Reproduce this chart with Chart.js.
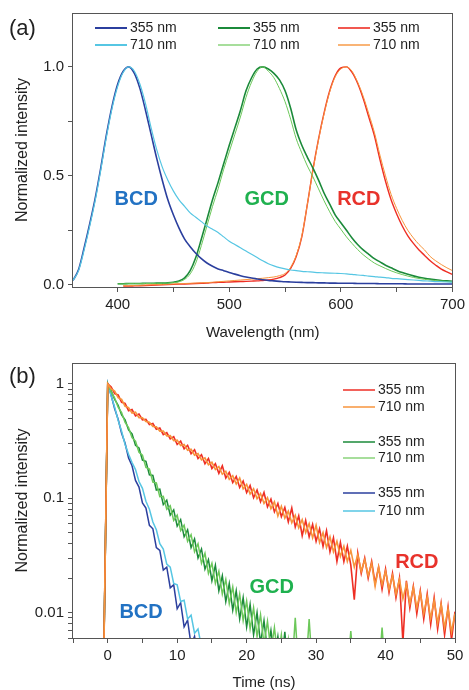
<!DOCTYPE html>
<html><head><meta charset="utf-8">
<script src="https://cdn.jsdelivr.net/npm/chart.js@4.4.1/dist/chart.umd.min.js"></script>
<style>
html,body{margin:0;padding:0;background:#fff;}
.wrap{position:relative;width:469px;height:345px;}
canvas{display:block;}
</style></head><body>
<div class="wrap"><canvas id="ca" width="469" height="345"></canvas></div>
<div class="wrap"><canvas id="cb" width="469" height="345"></canvas></div>
<script>
// ---------- DATA: panel (a) emission spectra ----------
const wavelengths = [
 360,365,370,375,380,385,390,395,400,405,
 410,415,420,425,430,435,440,445,450,455,
 460,465,470,475,480,485,490,495,500,505,
 510,515,520,525,530,535,540,545,550,555,
 560,565,570,575,580,585,590,595,600,605,
 610,615,620,625,630,635,640,645,650,655,
 660,665,670,675,680,685,690,695,700];
const bcd355 = [
 0.02,0.07,0.17,0.28,0.40,0.54,0.69,0.82,0.92,0.98,
 1.00,0.97,0.90,0.80,0.69,0.58,0.48,0.39,0.32,0.26,
 0.21,0.175,0.145,0.12,0.10,0.085,0.073,0.065,0.057,0.049,
 0.042,0.036,0.031,0.027,0.023,0.020,0.018,0.016,0.014,0.013,
 0.012,0.011,0.010,0.010,0.009,0.009,0.008,0.008,0.007,0.007,
 0.007,0.006,0.006,0.006,0.006,0.005,0.005,0.005,0.005,0.005,
 0.004,0.004,0.004,0.004,0.004,0.004,0.004,0.004,0.004];
const bcd710 = [
 0.02,0.065,0.16,0.27,0.39,0.53,0.68,0.81,0.91,0.975,
 1.00,0.98,0.92,0.83,0.72,0.62,0.54,0.48,0.43,0.39,
 0.36,0.33,0.31,0.29,0.27,0.255,0.24,0.22,0.20,0.185,
 0.17,0.155,0.14,0.125,0.11,0.097,0.087,0.079,0.073,0.068,
 0.065,0.062,0.060,0.058,0.056,0.055,0.054,0.053,0.052,0.050,
 0.048,0.045,0.043,0.040,0.038,0.035,0.033,0.030,0.028,0.026,
 0.024,0.022,0.020,0.018,0.017,0.015,0.014,0.013,0.012];
const gcd355 = [
 null,null,null,null,null,null,null,null,0.005,0.005,
 0.006,0.006,0.006,0.007,0.007,0.008,0.008,0.009,0.012,0.018,
 0.032,0.065,0.125,0.21,0.30,0.39,0.47,0.555,0.64,0.72,
 0.80,0.89,0.95,0.99,1.00,0.99,0.97,0.94,0.89,0.81,
 0.71,0.64,0.585,0.535,0.48,0.42,0.37,0.32,0.285,0.25,
 0.215,0.185,0.16,0.14,0.12,0.105,0.09,0.078,0.066,0.056,
 0.048,0.041,0.035,0.030,0.026,0.023,0.020,0.018,0.016];
const gcd710 = [
 null,null,null,null,null,null,null,null,0.004,0.004,
 0.005,0.005,0.005,0.006,0.006,0.007,0.007,0.008,0.010,0.014,
 0.025,0.05,0.10,0.18,0.27,0.36,0.44,0.53,0.61,0.69,
 0.77,0.86,0.93,0.98,1.00,0.98,0.95,0.90,0.84,0.76,
 0.67,0.605,0.545,0.495,0.44,0.385,0.335,0.29,0.255,0.22,
 0.19,0.162,0.138,0.118,0.10,0.087,0.075,0.064,0.055,0.047,
 0.04,0.034,0.029,0.025,0.022,0.019,0.017,0.015,0.013];
const rcd355 = [
 null,null,null,null,null,null,null,null,null,-0.006,
 -0.006,-0.005,-0.004,-0.003,-0.002,-0.001,0.0,0.001,0.002,0.003,
 0.004,0.005,0.006,0.007,0.008,0.010,0.011,0.012,0.013,0.014,
 0.015,0.016,0.017,0.018,0.020,0.022,0.026,0.033,0.045,0.075,
 0.13,0.22,0.37,0.53,0.67,0.79,0.89,0.96,0.995,1.00,
 0.975,0.925,0.855,0.77,0.685,0.575,0.475,0.39,0.325,0.27,
 0.225,0.19,0.16,0.135,0.11,0.09,0.072,0.059,0.048];
const rcd710 = [
 null,null,null,null,null,null,null,null,null,-0.004,
 -0.004,-0.003,-0.002,-0.001,0.0,0.001,0.002,0.003,0.004,0.005,
 0.006,0.007,0.008,0.009,0.010,0.012,0.014,0.016,0.018,0.020,
 0.022,0.024,0.026,0.028,0.030,0.033,0.036,0.042,0.052,0.080,
 0.135,0.225,0.37,0.525,0.665,0.785,0.885,0.955,0.99,1.00,
 0.98,0.93,0.865,0.785,0.70,0.595,0.50,0.415,0.35,0.295,
 0.25,0.215,0.185,0.16,0.13,0.11,0.093,0.078,0.065];

// ---------- DATA: panel (b) decay curves ----------
const timeNs = [
 -0.6,
 0,0.5,1,1.5,2,2.5,3,3.5,4,4.5,
 5,5.5,6,6.5,7,7.5,8,8.5,9,9.5,
 10,10.5,11,11.5,12,12.5,13,13.5,14,14.5,
 15,15.5,16,16.5,17,17.5,18,18.5,19,19.5,
 20,20.5,21,21.5,22,22.5,23,23.5,24,24.5,
 25,25.5,26,26.5,27,27.5,28,28.5,29,29.5,
 30,30.5,31,31.5,32,32.5,33,33.5,34,34.5,
 35,35.5,36,36.5,37,37.5,38,38.5,39,39.5,
 40,40.5,41,41.5,42,42.5,43,43.5,44,44.5,
 45,45.5,46,46.5,47,47.5,48,48.5,49,49.5,
 50];
const rcdDecay355 = [
 0.003,
 1.00,0.94,0.82,0.80,0.69,0.675,0.58,0.595,0.525,0.545,
 0.485,0.49,0.44,0.45,0.40,0.41,0.36,0.375,0.33,0.345,
 0.295,0.315,0.27,0.29,0.245,0.265,0.222,0.24,0.20,0.222,
 0.182,0.20,0.165,0.192,0.15,0.168,0.137,0.155,0.124,0.141,
 0.112,0.129,0.101,0.118,0.093,0.112,0.084,0.098,0.076,0.090,
 0.069,0.083,0.062,0.082,0.056,0.070,0.047,0.064,0.046,0.059,
 0.042,0.054,0.038,0.052,0.034,0.045,0.028,0.041,0.028,0.038,
 0.026,0.013,0.033,0.022,0.030,0.020,0.028,0.018,0.025,0.016,
 0.024,0.015,0.022,0.0135,0.020,0.0055,0.019,0.011,0.017,0.0098,
 0.0155,0.0088,0.0145,0.0079,0.0135,0.0072,0.0120,0.0064,0.0112,0.0058,
 0.0102];
const rcdDecay710 = [
 0.003,
 1.00,0.90,0.865,0.755,0.73,0.635,0.62,0.555,0.565,0.505,
 0.505,0.468,0.462,0.424,0.422,0.385,0.386,0.35,0.352,0.318,
 0.322,0.288,0.295,0.262,0.268,0.238,0.246,0.216,0.225,0.196,
 0.206,0.178,0.189,0.162,0.172,0.146,0.157,0.133,0.150,0.121,
 0.132,0.109,0.121,0.099,0.110,0.090,0.101,0.081,0.093,0.070,
 0.085,0.067,0.077,0.061,0.071,0.055,0.065,0.050,0.060,0.045,
 0.058,0.041,0.050,0.037,0.046,0.034,0.042,0.031,0.038,0.028,
 0.035,0.025,0.032,0.023,0.029,0.021,0.027,0.017,0.025,0.0175,
 0.023,0.016,0.021,0.0145,0.0195,0.0132,0.0178,0.012,0.0165,0.011,
 0.015,0.0098,0.0138,0.0089,0.0128,0.0081,0.0118,0.0074,0.0108,0.0068,
 0.0098];
const gcdDecay355 = [
 0.003,
 1.0,0.87,0.73,0.65,0.535,0.485,0.395,0.365,0.29,0.275,
 0.215,0.21,0.16,0.158,0.118,0.12,0.088,0.096,0.071,0.079,
 0.057,0.065,0.046,0.053,0.037,0.044,0.030,0.036,0.024,0.029,
 0.019,0.026,0.0155,0.021,0.0125,0.018,0.0105,0.0155,0.0088,0.0135,
 0.0075,0.0118,0.0064,0.0100,0.0054,0.0085,0.0046,0.0070,0.0040,0.0062,
 0.0035,0.0068,0.003,0.0045,0.003,0.003,0.003,0.003,0.003,0.003];
const gcdDecay710 = [
 0.003,
 1.0,0.85,0.75,0.625,0.56,0.46,0.415,0.338,0.315,0.252,
 0.238,0.186,0.18,0.138,0.136,0.103,0.104,0.080,0.086,0.064,
 0.071,0.052,0.058,0.042,0.048,0.034,0.040,0.027,0.033,0.022,
 0.027,0.018,0.023,0.0145,0.0195,0.012,0.0168,0.0100,0.0145,0.0085,
 0.0126,0.0072,0.0110,0.0062,0.0096,0.0053,0.0084,0.0046,0.0074,0.0040,
 0.0064,0.0035,0.0058,0.003,0.009,0.003,0.0045,0.003,0.0088,0.003,
 0.003,0.003,0.003,0.003,0.003,0.003,0.003,0.003,0.003,0.003,
 0.0069,0.003,0.003,0.003,0.003,0.003,0.003,0.003,0.003,0.0074,
 0.003];
const bcdDecay355 = [
 0.003,
 1.0,0.79,0.605,0.49,0.37,0.302,0.225,0.192,0.143,0.125,
 0.091,0.082,0.058,0.054,0.037,0.035,0.0235,0.025,0.0165,0.0175,
 0.0108,0.0122,0.0075,0.0086,0.0052,0.0062,0.0040,0.003];
const bcdDecay710 = [
 0.003,
 1.0,0.78,0.625,0.48,0.385,0.295,0.242,0.205,0.178,0.14,
 0.122,0.094,0.080,0.062,0.053,0.040,0.036,0.0265,0.025,0.018,
 0.0175,0.0125,0.0128,0.0088,0.0095,0.0066,0.0072,0.0050,0.0055,0.003];

// tick label sets
const specTickLabels = [0, 0.5, 1.0];
const specXLabels = [400, 500, 600, 700];
const decayYLabels = [1, 0.1, 0.01];
const decayXLabels = [0, 10, 20, 30, 40, 50];

// ---------- STYLE ----------
const FONT = "'Liberation Sans', Arial, Helvetica, sans-serif";
Chart.defaults.font.family = FONT;
Chart.defaults.color = '#222';
const C = {
  blue: '#2b3f9e', cyan: '#56c6e3',
  dgreen: '#1b8a3a', lgreen: '#6cc85a',
  red: '#ee2e24', orange: '#f7943c',
  tBlue: '#2272c3', tGreen: '#1fb14f', tRed: '#e8322b',
  axis: '#555', text: '#222'
};

function xy(xs, ys) { return ys.map((v, i) => ({x: xs[i], y: v})); }

function decor(opts) {
  return {
    id: 'decor',
    afterDatasetsDraw(chart) {
      const {ctx, chartArea: a} = chart;
      const sx = chart.scales.x, sy = chart.scales.y;
      ctx.save();
      ctx.strokeStyle = C.axis; ctx.lineWidth = 1;
      const l = Math.round(a.left) - 0.5, t = Math.round(a.top) + 0.5;
      const r = Math.round(a.right) + 0.5, b = Math.round(a.bottom) + 0.5;
      ctx.strokeRect(l, t, r - l, b - t);
      ctx.fillStyle = C.text; ctx.font = '22px ' + FONT;
      ctx.textAlign = 'left'; ctx.textBaseline = 'middle';
      ctx.fillText(opts.letter.text, opts.letter.x, opts.letter.y);
      ctx.font = '14px ' + FONT;
      opts.legend.forEach(e => {
        const ds = chart.data.datasets[e.ds];
        ctx.strokeStyle = ds.borderColor; ctx.lineWidth = e.w;
        ctx.beginPath(); ctx.moveTo(e.x1, e.y); ctx.lineTo(e.x2, e.y); ctx.stroke();
        ctx.fillStyle = C.text; ctx.textAlign = 'left';
        ctx.fillText(ds.label, e.x2 + 3, e.y + 0.5);
      });
      ctx.font = 'bold 20px ' + FONT; ctx.textAlign = 'center';
      opts.notes.forEach(n => {
        ctx.fillStyle = n.color;
        ctx.fillText(n.text, sx.getPixelForValue(n.x), sy.getPixelForValue(n.y));
      });
      ctx.restore();
    }
  };
}

function lineDs(label, data, color, width, order, smooth) {
  return {label, data, borderColor: color, backgroundColor: color, borderWidth: width,
    pointRadius: 0, fill: false, order, spanGaps: false,
    cubicInterpolationMode: smooth ? 'monotone' : 'default', tension: 0};
}

const gridCommon = {display: true, drawOnChartArea: false, drawTicks: true, tickLength: 5, tickColor: C.axis, tickWidth: 1};

// ---------- PANEL (a) ----------
new Chart(document.getElementById('ca'), {
  type: 'line',
  data: {datasets: [
    lineDs('355 nm', xy(wavelengths, bcd355), C.blue, 1.6, 2, true),
    lineDs('355 nm', xy(wavelengths, gcd355), C.dgreen, 1.6, 4, true),
    lineDs('355 nm', xy(wavelengths, rcd355), C.red, 1.4, 6, true),
    lineDs('710 nm', xy(wavelengths, bcd710), C.cyan, 1.2, 1, true),
    lineDs('710 nm', xy(wavelengths, gcd710), C.lgreen, 1.0, 3, true),
    lineDs('710 nm', xy(wavelengths, rcd710), C.orange, 1.0, 5, true)
  ]},
  options: {
    responsive: false, animation: false, events: [],
    layout: {padding: {top: 13, right: 14, left: 0, bottom: 0}},
    plugins: {legend: {display: false}, tooltip: {enabled: false}},
    scales: {
      x: {type: 'linear', min: 360, max: 700,
        afterFit: s => { s.height = 58; },
        border: {display: false}, grid: gridCommon,
        ticks: {stepSize: 50, includeBounds: false, autoSkip: false, maxRotation: 0, padding: 4,
          color: C.text, font: {size: 15},
          callback: v => specXLabels.includes(v) ? String(v) : ''},
        title: {display: true, text: 'Wavelength (nm)', color: C.text, font: {size: 15}, padding: {top: 0, bottom: 3}}
      },
      y: {type: 'linear', min: -0.01, max: 1.247,
        afterFit: s => { s.width = 73; },
        border: {display: false}, grid: gridCommon,
        ticks: {stepSize: 0.25, includeBounds: false, autoSkip: false, padding: 4,
          color: C.text, font: {size: 15},
          callback: v => specTickLabels.some(t => Math.abs(t - v) < 1e-9) ? v.toFixed(1) : ''},
        title: {display: true, text: 'Normalized intensity', color: C.text, font: {size: 16}, padding: {top: 13, bottom: 0}}
      }
    }
  },
  plugins: [decor({
    letter: {text: '(a)', x: 9, y: 29},
    legend: [
      {ds: 0, x1: 95, x2: 127, y: 28, w: 2},
      {ds: 3, x1: 95, x2: 127, y: 45, w: 2},
      {ds: 1, x1: 218, x2: 250, y: 28, w: 2},
      {ds: 4, x1: 218, x2: 250, y: 45, w: 1.2},
      {ds: 2, x1: 338, x2: 370, y: 28, w: 1.6},
      {ds: 5, x1: 338, x2: 370, y: 45, w: 1.4}
    ],
    notes: [
      {text: 'BCD', x: 416.6, y: 0.392, color: C.tBlue},
      {text: 'GCD', x: 533.6, y: 0.39, color: C.tGreen},
      {text: 'RCD', x: 616.1, y: 0.39, color: C.tRed}
    ]
  })]
});

// ---------- PANEL (b) ----------
function isDecadeMultiple(v) {
  const e = Math.floor(Math.log10(v) + 1e-9);
  const m = v / Math.pow(10, e);
  return Math.abs(m - Math.round(m)) < 1e-6 && Math.round(m) <= 9;
}
new Chart(document.getElementById('cb'), {
  type: 'line',
  data: {datasets: [
    lineDs('355 nm', xy(timeNs, rcdDecay355), C.red, 1.6, 2, false),
    lineDs('710 nm', xy(timeNs, rcdDecay710), C.orange, 1.6, 1, false),
    lineDs('355 nm', xy(timeNs, gcdDecay355), C.dgreen, 1.5, 4, false),
    lineDs('710 nm', xy(timeNs, gcdDecay710), C.lgreen, 1.5, 3, false),
    lineDs('355 nm', xy(timeNs, bcdDecay355), C.blue, 1.5, 6, false),
    lineDs('710 nm', xy(timeNs, bcdDecay710), C.cyan, 1.5, 5, false)
  ]},
  options: {
    responsive: false, animation: false, events: [],
    layout: {padding: {top: 18, right: 14, left: 0, bottom: 0}},
    plugins: {legend: {display: false}, tooltip: {enabled: false}},
    scales: {
      x: {type: 'linear', min: -5, max: 50,
        afterFit: s => { s.height = 52; },
        border: {display: false}, grid: gridCommon,
        ticks: {stepSize: 5, includeBounds: false, autoSkip: false, maxRotation: 0, padding: 4,
          color: C.text, font: {size: 15},
          callback: v => decayXLabels.includes(v) ? String(v) : ''},
        title: {display: true, text: 'Time (ns)', color: C.text, font: {size: 15, lineHeight: 1}, padding: {top: 0, bottom: 0}}
      },
      y: {type: 'logarithmic', min: 0.006, max: 1.52,
        afterFit: s => { s.width = 73; },
        afterBuildTicks: s => { s.ticks = s.ticks.filter(t => isDecadeMultiple(t.value)); },
        border: {display: false}, grid: gridCommon,
        ticks: {autoSkip: false, padding: 4, color: C.text, font: {size: 15},
          callback: v => { const hit = decayYLabels.find(t => Math.abs(t - v) / t < 1e-6); return hit !== undefined ? String(hit) : ''; }},
        title: {display: true, text: 'Normalized intensity', color: C.text, font: {size: 16}, padding: {top: 13, bottom: 0}}
      }
    }
  },
  plugins: [decor({
    letter: {text: '(b)', x: 9, y: 32},
    legend: [
      {ds: 0, x1: 343, x2: 375, y: 45, w: 1.5},
      {ds: 1, x1: 343, x2: 375, y: 62, w: 1.5},
      {ds: 2, x1: 343, x2: 375, y: 97, w: 1.5},
      {ds: 3, x1: 343, x2: 375, y: 113, w: 1.2},
      {ds: 4, x1: 343, x2: 375, y: 148, w: 1.5},
      {ds: 5, x1: 343, x2: 375, y: 166, w: 1.5}
    ],
    notes: [
      {text: 'RCD', x: 44.5, y: 0.0276, color: C.tRed},
      {text: 'GCD', x: 23.6, y: 0.0167, color: C.tGreen},
      {text: 'BCD', x: 4.8, y: 0.0100, color: C.tBlue}
    ]
  })]
});
</script>
</body></html>
